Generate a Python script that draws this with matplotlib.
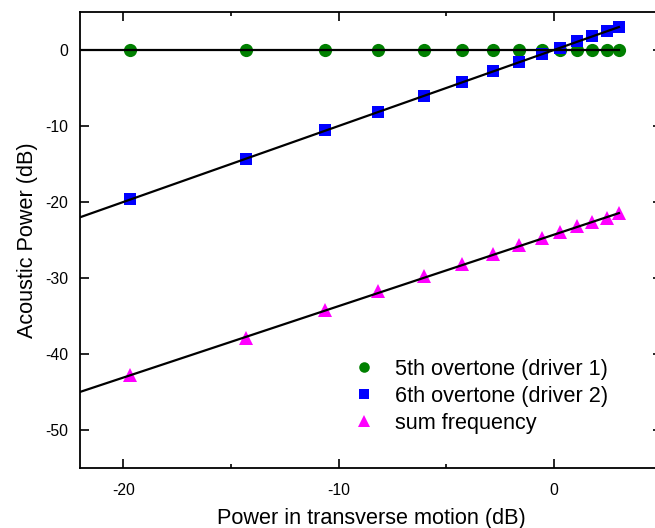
import matplotlib
matplotlib.use("Agg")
import matplotlib.pyplot as plt
from matplotlib.ticker import MultipleLocator
import numpy as np

plt.rcParams['font.family'] = ['Liberation Sans', 'DejaVu Sans']
plt.rcParams['axes.unicode_minus'] = False

# Power in transverse motion (dB), shared by all three series
power_db = [-19.69, -14.30, -10.62, -8.17, -6.03, -4.27, -2.85,
            -1.62, -0.57, 0.28, 1.05, 1.75, 2.45, 3.02]

# Acoustic power (dB) of each component
overtone5 = [0.0, 0.0, 0.0, 0.0, 0.0, 0.0, 0.0,
             0.0, 0.0, 0.0, 0.0, 0.0, 0.0, 0.0]
overtone6 = [-19.62, -14.28, -10.55, -8.14, -6.05, -4.24, -2.79,
             -1.61, -0.55, 0.28, 1.12, 1.82, 2.52, 3.04]
sum_freq = [-42.7, -37.87, -34.18, -31.73, -29.8, -28.1, -26.8,
            -25.6, -24.7, -23.95, -23.2, -22.6, -22.1, -21.5]

# Linear fits (slope, intercept) for each series
fit_slopes = [0.0, 1.0, 0.94]
fit_intercepts = [0.0, 0.0, -24.3]

labels = ['5th overtone (driver 1)', '6th overtone (driver 2)', 'sum frequency']
colors = ['green', 'blue', 'magenta']
markers = ['o', 's', '^']
msizes = [9.5, 8.8, 10.5]

fig = plt.figure(figsize=(6.55, 5.28), dpi=100)
ax = fig.add_axes([0.1225, 0.1136, 0.8875, 0.8637])

xlo, xhi = -22, 5
ax.set_xlim(xlo, xhi)
ax.set_ylim(-55, 5)

# Fit lines run from the left edge up to the last measurement
xfit = np.array([xlo, max(power_db)])
for series, c, m, ms, lab in zip([overtone5, overtone6, sum_freq],
                                 colors, markers, msizes, labels):
    ax.plot(power_db, series, linestyle='none', marker=m, ms=ms,
            color=c, markeredgewidth=0, label=lab, zorder=2)
for k, b in zip(fit_slopes, fit_intercepts):
    ax.plot(xfit, k * xfit + b, color='black', lw=1.6, zorder=3)

# Ticks point inward on all four sides
ax.xaxis.set_major_locator(MultipleLocator(10))
ax.xaxis.set_minor_locator(MultipleLocator(5))
ax.yaxis.set_major_locator(MultipleLocator(10))
ax.tick_params(which='both', direction='in', top=True, right=True, width=1.2)
ax.tick_params(which='major', length=6.5)
ax.tick_params(which='minor', length=3.2)
ax.tick_params(axis='x', labelsize=11.3, pad=11)
ax.tick_params(axis='y', labelsize=11.3, pad=8.5)
for sp in ax.spines.values():
    sp.set_linewidth(1.3)

ax.set_xlabel('Power in transverse motion (dB)', fontsize=15.6, labelpad=7)
ax.set_ylabel('Acoustic Power (dB)', fontsize=15.6, labelpad=5)

ax.legend(loc='upper left', bbox_to_anchor=(0.539, 0.3205), frameon=False,
          fontsize=15.6, handlelength=1.0, handletextpad=0.94,
          labelspacing=0.28, borderpad=0, borderaxespad=0, markerscale=0.8,
          bbox_transform=fig.transFigure)

fig.savefig('out.png', dpi=100)
